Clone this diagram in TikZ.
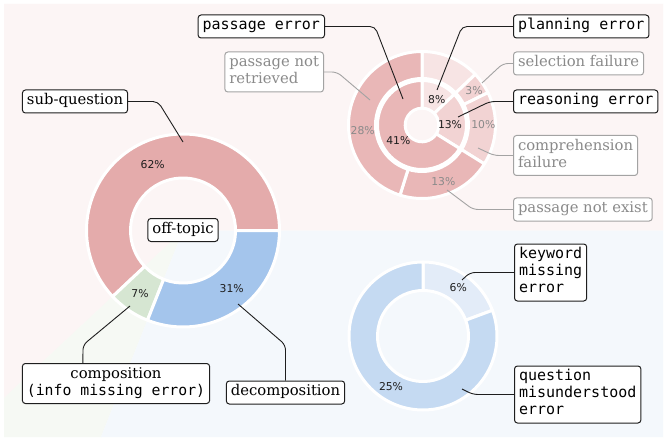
\documentclass[tikz,border=0pt]{standalone}
\usepackage{fontspec}
\setmainfont{DejaVu Serif}
\newfontfamily\monof{DejaVu Sans Mono}
\newfontfamily\pctf{DejaVu Sans}
\usetikzlibrary{calc}
\definecolor{bgpink}{HTML}{FCF5F5}
\definecolor{bggreen}{HTML}{F6F9F4}
\definecolor{bgblue}{HTML}{F4F8FC}
\definecolor{redA}{HTML}{E4ABAB}
\definecolor{blueA}{HTML}{A4C5EC}
\definecolor{greenA}{HTML}{D6E6D2}
\definecolor{pinkA}{HTML}{E9B7B7}
\definecolor{pinkB}{HTML}{F2D3D3}
\definecolor{pinkC}{HTML}{F7E4E4}
\definecolor{blueB}{HTML}{C5DAF2}
\definecolor{blueC}{HTML}{E3ECF8}
\definecolor{grayT}{HTML}{8A8A8A}
\definecolor{grayE}{HTML}{A3A3A3}
\definecolor{inkK}{HTML}{1E1E1E}
\newcommand{\mywedge}[6]{%
  \filldraw[fill=#1, draw=white, line width=3pt, line join=round]
    ($(#2)+(#5:#4pt)$) arc[start angle=#5, end angle=#6, radius=#4pt]
    -- ($(#2)+(#6:#3pt)$) arc[start angle=#6, end angle=#5, radius=#3pt] -- cycle;}
\tikzset{
  lbl/.style={draw=inkK, fill=white, rounded corners=3pt, line width=1pt,
    inner xsep=4.5pt, inner ysep=3pt, text=black, font=\fontsize{14.8}{17}\selectfont},
  mlbl/.style={lbl, font=\monof\fontsize{15}{17}\selectfont},
  glbl/.style={lbl, draw=grayE, text=grayT},
  pct/.style={font=\pctf\fontsize{10.8}{12}\selectfont, inner sep=0pt, text=inkK},
  gpct/.style={pct, text=grayT},
  conn/.style={line width=0.9pt, draw=inkK, rounded corners=5pt},
  gconn/.style={conn, draw=grayE},
}
\begin{document}
\begin{tikzpicture}[x=1pt,y=1pt]
\fill[white] (0,0) rectangle (667,-441);
\useasboundingbox (0,0) rectangle (667,-441);
% background regions
\coordinate (c1) at (183,-230.5);
\coordinate (c2) at (422,-125);
\coordinate (c3) at (423,-336);
\fill[bgpink] (c1) -- (663,-230.5) -- (663,-4) -- (4,-4) -- (4,-398) -- cycle;
\fill[bggreen] (c1) -- (4,-398) -- (4,-437) -- (101,-437) -- cycle;
\fill[bgblue] (c1) -- (101,-437) -- (663,-437) -- (663,-230.5) -- cycle;
% left pie
\mywedge{redA}{c1}{52.5}{96.5}{0}{223.2}
\mywedge{greenA}{c1}{52.5}{96.5}{223.2}{248.4}
\mywedge{blueA}{c1}{52.5}{96.5}{248.4}{360}
% nested pie: outer ring
\mywedge{pinkC}{c2}{46.5}{73.5}{43.55}{90}
\mywedge{pinkB}{c2}{46.5}{73.5}{26.13}{43.55}
\mywedge{pinkB}{c2}{46.5}{73.5}{-31.94}{26.13}
\mywedge{pinkA}{c2}{46.5}{73.5}{-107.42}{-31.94}
\mywedge{pinkA}{c2}{46.5}{73.5}{-270}{-107.42}
% nested pie: inner ring
\mywedge{pinkC}{c2}{16.8}{44.5}{43.55}{90}
\mywedge{pinkB}{c2}{16.8}{44.5}{-31.94}{43.55}
\mywedge{pinkA}{c2}{16.8}{44.5}{-270}{-31.94}
% bottom right pie
\mywedge{blueC}{c3}{45.5}{74}{20.32}{90}
\mywedge{blueB}{c3}{45.5}{74}{-270}{20.32}
% percentages
\node[pct] (p62) at (152.7,-164.3) {62\%};
\node[pct] (p7) at (140,-293.3) {7\%};
\node[pct] (p31) at (231.7,-289) {31\%};
\node[pct] (p8) at (436.7,-99.3) {8\%};
\node[pct] (p13i) at (450,-125) {13\%};
\node[pct] (p41) at (398.3,-140.7) {41\%};
\node[gpct] (p28) at (362.7,-130.7) {28\%};
\node[gpct] (p3) at (474,-91) {3\%};
\node[gpct] (p10) at (483.3,-125) {10\%};
\node[gpct] (p13o) at (443.3,-181.7) {13\%};
\node[pct] (p6) at (458.3,-287.3) {6\%};
\node[pct] (p25) at (391,-386.7) {25\%};
% connector end points
\coordinate (eSQ) at (183,-142);
\coordinate (ePE) at (403,-99);
\coordinate (ePNR) at (370,-100);
\coordinate (ePL) at (437,-90);
\coordinate (eSF) at (482,-83);
\coordinate (eRE) at (458,-117);
\coordinate (eCF) at (478,-148);
\coordinate (ePNE) at (447,-190);
\coordinate (eCO) at (130,-306);
\coordinate (eDE) at (238,-304);
\coordinate (eKW) at (462,-280);
\coordinate (eQM) at (462,-389);
% labels
\node[mlbl, anchor=east] (pe) at (325,-26.5) {\strut passage error};
\node[glbl, anchor=east, align=left] (pnr) at (324,-72) {\strut passage not\\\strut retrieved};
\node[lbl] (sq) at (75,-101.5) {\strut sub-question};
\node[mlbl, anchor=west] (pl) at (513,-26.5) {\strut planning error};
\node[glbl, anchor=west] (sf) at (513,-63.5) {\strut selection failure};
\node[mlbl, anchor=west] (re) at (513,-101.5) {\strut reasoning error};
\node[glbl, anchor=west, align=left] (cf) at (513,-155.5) {\strut comprehension\\\strut failure};
\node[glbl, anchor=west] (pne) at (513,-209.5) {\strut passage not exist};
\node[lbl] (ot) at (183,-230) {\strut off-topic};
\node[lbl, align=center] (co) at (116,-383.5) {\strut composition\\\monof\strut(info missing error)};
\node[lbl] (de) at (285.5,-392.5) {\strut decomposition};
\node[mlbl, anchor=west, align=left] (kw) at (514,-272.5) {\strut keyword\\\strut missing\\\strut error};
\node[mlbl, anchor=west, align=left] (qm) at (514,-394.5) {\strut question\\\strut misunderstood\\\strut error};
% connectors
\draw[conn] (sq.east) -- (158,-101.5) -- (eSQ);
\draw[conn] (pe.east) -- (375,-26.5) -- (ePE);
\draw[gconn] (pnr.east) -- (337,-72) -- (ePNR);
\draw[conn] (pl.west) -- (462,-26.5) -- (ePL);
\draw[gconn] (sf.west) -- (503,-63.5) -- (eSF);
\draw[conn] (re.west) -- (490,-101.5) -- (eRE);
\draw[gconn] (cf.west) -- (494,-155.5) -- (eCF);
\draw[gconn] (pne.west) -- (473,-209.5) -- (ePNE);
\draw[conn] ($(co.north west)+(61,0)$) -- (83,-345) -- (eCO);
\draw[conn] (de.north) -- (285.5,-345) -- (eDE);
\draw[conn] (kw.west) -- (470,-272.5) -- (eKW);
\draw[conn] (qm.west) -- (473,-394.5) -- (eQM);
\end{tikzpicture}
\end{document}
